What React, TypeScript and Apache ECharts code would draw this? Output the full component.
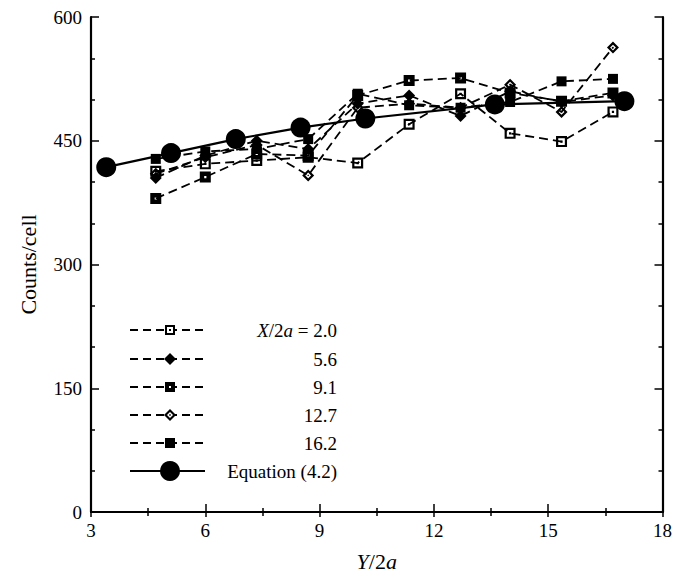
import React, { useEffect, useRef } from "react";
import * as echarts from "echarts";

const seriesX = [4.7, 6.0, 7.35, 8.7, 10.0, 11.35, 12.7, 14.0, 15.35, 16.7];
const s20 = [413, 422, 426, 430, 423, 470, 507, 459, 449, 485];
const s56 = [405, 432, 450, 440, 495, 505, 480, 510, 497, 505];
const s91 = [380, 406, 434, 432, 505, 523, 526, 508, 498, 508];
const s127 = [410, 430, 445, 408, 490, 495, 490, 518, 485, 563];
const s162 = [428, 437, 440, 452, 507, 493, 490, 497, 522, 525];
const eqX = [3.4, 5.1, 6.8, 8.5, 10.2, 13.6, 17.0];
const eqY = [418, 435, 452, 466, 477, 494, 498];

const legendLabels = ["{i|X}/2{i|a} = 2.0", "5.6", "9.1", "12.7", "16.2", "Equation (4.2)"];

const FONT = "'Liberation Serif', 'DejaVu Serif', serif";

const SYM_HOLLOW_SQ = "path://M0 0H10V10H0Z M2 2V8H8V2Z M4 4H6V6H4Z";
const SYM_DOT_SQ = "path://M0 0H10V10H0Z M4 4V6H6V4Z";
const SYM_HOLLOW_DIA = "path://M5 0L10 5L5 10L0 5Z M5 2.6L2.6 5L5 7.4L7.4 5Z M5 4.2L5.8 5L5 5.8L4.2 5Z";

const pairs = (xs: number[], ys: number[]) => xs.map((x, i) => [x, ys[i]]);

export default function App() {
  const ref = useRef<HTMLDivElement>(null);
  useEffect(() => {
    document.body.style.margin = "0";
    const chart = echarts.init(ref.current!, null, { renderer: "svg" });
    const dashed = { color: "#000", width: 1.8, type: [9, 5] as any };
    const mk = (name: string, ys: number[], symbol: string, size: number) => ({
      name,
      type: "line",
      data: pairs(seriesX, ys),
      symbol,
      symbolSize: size,
      showSymbol: true,
      lineStyle: dashed,
      itemStyle: { color: "#000" },
      z: 3,
    });

    const legendRows = [330, 359, 387, 415, 443, 471];
    const lx0 = 130, lx1 = 205, lmx = 170, ltx = 337;
    const legendGraphics: any[] = [];
    legendRows.forEach((y, i) => {
      const isEq = i === 5;
      legendGraphics.push({
        type: "line",
        shape: { x1: lx0, y1: y, x2: lx1, y2: y },
        style: { stroke: "#000", lineWidth: isEq ? 2.2 : 1.8, lineDash: isEq ? null : [8, 5] },
      });
      let marker: any;
      if (i === 0) {
        marker = { type: "group", children: [
          { type: "rect", shape: { x: lmx - 5, y: y - 5, width: 10, height: 10 }, style: { fill: "#000" } },
          { type: "rect", shape: { x: lmx - 3, y: y - 3, width: 6, height: 6 }, style: { fill: "#fff" } },
          { type: "rect", shape: { x: lmx - 1, y: y - 1, width: 2, height: 2 }, style: { fill: "#000" } },
        ] };
      } else if (i === 1) {
        marker = { type: "polygon", shape: { points: [[lmx, y - 6], [lmx + 6, y], [lmx, y + 6], [lmx - 6, y]] }, style: { fill: "#000" } };
      } else if (i === 2) {
        marker = { type: "group", children: [
          { type: "rect", shape: { x: lmx - 5, y: y - 5, width: 10, height: 10 }, style: { fill: "#000" } },
          { type: "rect", shape: { x: lmx - 1, y: y - 1, width: 2, height: 2 }, style: { fill: "#fff" } },
        ] };
      } else if (i === 3) {
        marker = { type: "group", children: [
          { type: "polygon", shape: { points: [[lmx, y - 6], [lmx + 6, y], [lmx, y + 6], [lmx - 6, y]] }, style: { fill: "#000" } },
          { type: "polygon", shape: { points: [[lmx, y - 3], [lmx + 3, y], [lmx, y + 3], [lmx - 3, y]] }, style: { fill: "#fff" } },
          { type: "rect", shape: { x: lmx - 0.8, y: y - 0.8, width: 1.6, height: 1.6 }, style: { fill: "#000" } },
        ] };
      } else if (i === 4) {
        marker = { type: "rect", shape: { x: lmx - 5, y: y - 5, width: 10, height: 10 }, style: { fill: "#000" } };
      } else {
        marker = { type: "circle", shape: { cx: lmx, cy: y, r: 10 }, style: { fill: "#000" } };
      }
      legendGraphics.push(marker);
      legendGraphics.push({
        type: "text",
        x: ltx,
        y,
        style: {
          text: legendLabels[i],
          align: "right",
          verticalAlign: "middle",
          fontFamily: FONT,
          fontSize: 19,
          fill: "#000",
          rich: { i: { fontStyle: "italic", fontFamily: FONT, fontSize: 19 } },
        },
      });
    });

    const tickCommon = { show: true, inside: true, length: 8, lineStyle: { color: "#000", width: 1.5 } };
    const minorCommon = { show: true, length: 4, lineStyle: { color: "#000", width: 1.5 } };
    const axisLine = { show: true, lineStyle: { color: "#000", width: 2.2 } };

    chart.setOption({
      animation: false,
      backgroundColor: "#fff",
      grid: { left: 91, right: 7, top: 17, bottom: 66 },
      xAxis: [
        {
          type: "value", min: 3, max: 18, interval: 3, position: "bottom",
          axisLine, axisTick: tickCommon, minorTick: { ...minorCommon, splitNumber: 2 },
          splitLine: { show: false }, minorSplitLine: { show: false },
          axisLabel: { color: "#000", fontFamily: FONT, fontSize: 19, margin: 9 },
          name: "{i|Y}/2{i|a}", nameLocation: "middle", nameGap: 38,
          nameTextStyle: { color: "#000", fontFamily: FONT, fontSize: 22, rich: { i: { fontStyle: "italic", fontFamily: FONT, fontSize: 22 } } },
        },
        {
          type: "value", min: 3, max: 18, interval: 3, position: "top",
          axisLine, axisTick: { ...tickCommon, length: 5 }, minorTick: { ...minorCommon, splitNumber: 2 },
          splitLine: { show: false }, axisLabel: { show: false },
        },
      ],
      yAxis: [
        {
          type: "value", min: 0, max: 600, interval: 150, position: "left",
          axisLine, axisTick: tickCommon, minorTick: { ...minorCommon, splitNumber: 3 },
          splitLine: { show: false },
          axisLabel: { color: "#000", fontFamily: FONT, fontSize: 19, margin: 9 },
          name: "Counts/cell", nameLocation: "middle", nameGap: 52,
          nameTextStyle: { color: "#000", fontFamily: FONT, fontSize: 22 },
        },
        {
          type: "value", min: 0, max: 600, interval: 150, position: "right",
          axisLine, axisTick: tickCommon, minorTick: { ...minorCommon, splitNumber: 3 },
          splitLine: { show: false }, axisLabel: { show: false },
        },
      ],
      series: [
        mk("2.0", s20, SYM_HOLLOW_SQ, 11),
        mk("5.6", s56, "diamond", 12),
        mk("9.1", s91, SYM_DOT_SQ, 11),
        mk("12.7", s127, SYM_HOLLOW_DIA, 12),
        mk("16.2", s162, "rect", 10),
        {
          name: "Equation (4.2)", type: "line", data: pairs(eqX, eqY),
          symbol: "circle", symbolSize: 20, showSymbol: true,
          lineStyle: { color: "#000", width: 2.2 }, itemStyle: { color: "#000" }, z: 5,
        },
      ],
      graphic: legendGraphics,
    });
    return () => chart.dispose();
  }, []);
  return <div ref={ref} style={{ width: 675, height: 578 }} />;
}
